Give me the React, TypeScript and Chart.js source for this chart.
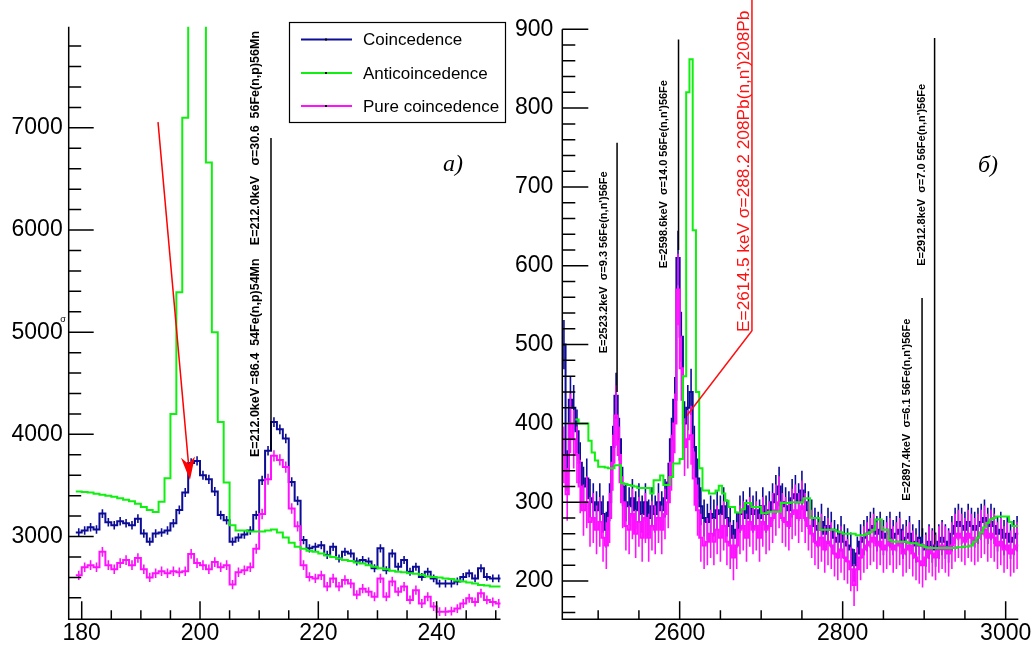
import React, { useEffect, useRef } from "react";
import { Chart, registerables } from "chart.js";
Chart.register(...registerables);

const FONT = "'Liberation Sans', Arimo, Arial, Helvetica, sans-serif";
const SERIF = "'Liberation Serif', 'DejaVu Serif', serif";

// ---------------- Left panel (a) : 1 keV bins, left edges from 179 ----------------
const leftBinStart = 179;
const leftBinWidth = 1;
const leftCoinc = [
  3040, 3060, 3090, 3070, 3225, 3140, 3110, 3150, 3130, 3110,
  3175, 3030, 2950, 3030, 3040, 3060, 3130, 3260, 3430, 3720,
  3740, 3600, 3560, 3440, 3210, 3160, 2950, 2990, 3020, 3060,
  3210, 3550, 3840, 4120, 4050, 3960, 3535, 3350, 2965, 2885,
  2900, 2915, 2820, 2900, 2785, 2850, 2835, 2755, 2770, 2755,
  2690, 2885, 2670, 2835, 2705, 2770, 2655, 2705, 2605, 2655,
  2590, 2540, 2540, 2540, 2560, 2605, 2640, 2590, 2690, 2605,
  2590, 2590,
];
const leftAnti = [
  3440, 3435, 3430, 3420, 3410, 3400, 3390, 3375, 3360, 3345,
  3320, 3290, 3260, 3240, 3340, 3570, 4200, 5390, 7100, 9500,
  11000, 9500, 6660, 5000, 4120, 3530, 3110, 3060, 3060, 3050,
  3050, 3050, 3060, 3070, 3040, 2990, 2940, 2900, 2880, 2860,
  2850, 2835, 2815, 2800, 2785, 2770, 2760, 2745, 2735, 2720,
  2705, 2690, 2680, 2665, 2655, 2650, 2640, 2635, 2625, 2610,
  2605, 2600, 2590, 2585, 2570, 2560, 2550, 2540, 2525, 2520,
  2510, 2510,
];
const leftPure = [
  2620, 2700, 2720, 2700, 2850, 2720, 2680, 2740, 2770, 2720,
  2790, 2680, 2600, 2640, 2660, 2640, 2660, 2650, 2660, 2830,
  2740, 2720, 2680, 2750, 2700, 2720, 2530, 2650, 2670, 2700,
  2880, 3220, 3560, 3790, 3750, 3680, 3275, 3100, 2720, 2605,
  2590, 2620, 2510, 2590, 2510, 2575, 2540, 2430, 2490, 2460,
  2410, 2590, 2410, 2560, 2460, 2510, 2380, 2475, 2345, 2410,
  2315, 2265, 2265, 2270, 2295, 2345, 2395, 2360, 2445, 2380,
  2360, 2345,
];
const leftXTicks = [180, 200, 220, 240];
const leftYTicks = [3000, 4000, 5000, 6000, 7000];

// ---------------- Right panel (б) : 4 keV bins, left edges from 2456 ----------------
const rightBinStart = 2456;
const rightBinWidth = 4;
const rightCoinc = [
  500, 340, 430, 420, 390, 350, 320, 330, 305, 300, 290, 300,
  285, 265, 300, 370, 435, 380, 320, 300,
  295, 305, 290, 300, 285, 300, 280, 295, 285, 300,
  290, 305, 325, 380, 430, 610, 510, 400, 420, 440,
  370, 330, 295, 280, 275, 285, 280, 290, 285, 295,
  280, 270, 255, 265, 285, 290, 280, 295, 285, 290,
  280, 295, 285, 290, 300, 310, 320, 300, 295, 290,
  305, 310, 300, 315, 300, 290, 280, 270, 265, 275,
  260, 270, 265, 255, 250, 260, 250, 245, 240, 220,
  235, 250, 255, 260, 265, 270, 260, 265, 255, 260,
  265, 255, 260, 265, 250, 255, 260, 250, 245, 255,
  245, 240, 250, 245, 240, 250, 255, 250, 245, 260,
  270, 275, 270, 265, 275, 270, 265, 270, 275, 280,
  270, 275, 270, 260, 265, 255, 260, 250, 255, 260,
];
const rightPure = [
  360, 310, 400, 380, 360, 320, 290, 300, 275, 280, 265, 275,
  255, 245, 280, 350, 410, 360, 300, 270,
  265, 285, 260, 275, 255, 280, 255, 270, 265, 280,
  265, 285, 300, 350, 400, 570, 470, 370, 380, 385,
  330, 290, 255, 245, 250, 260, 250, 265, 255, 270,
  250, 245, 230, 245, 265, 270, 255, 275, 265, 270,
  255, 275, 265, 270, 280, 290, 300, 280, 275, 270,
  285, 290, 280, 295, 280, 270, 260, 250, 245, 255,
  240, 250, 245, 235, 230, 240, 230, 225, 215, 195,
  215, 230, 240, 245, 250, 255, 245, 250, 240, 245,
  250, 240, 245, 250, 235, 240, 245, 235, 230, 225,
  220, 230, 240, 235, 230, 240, 245, 240, 235, 245,
  255, 260, 255, 250, 260, 255, 250, 255, 260, 265,
  255, 260, 255, 245, 250, 240, 245, 235, 240, 245,
];
const rightAnti = [
  null, null, null, null, 405, 400, 400, 400, 378, 363, 353, 345,
  345, 344, 343, 343, 347, 347, 324, 323,
  322, 321, 320, 318, 318, 318, 318, 311, 328, 328,
  334, 322, 322, 332, 349, 349, 355, 460, 820, 862,
  645, 440, 343, 315, 315, 311, 311, 315, 321, 311,
  302, 294, 294, 287, 287, 291, 299, 299, 294, 294,
  294, 286, 286, 288, 288, 288, 288, 299, 299, 299,
  300, 300, 300, 300, 305, 305, 280, 280, 280, 265,
  265, 265, 265, 265, 263, 262, 260, 260, 260, 260,
  258, 258, 258, 260, 262, 265, 278, 278, 265, 265,
  252, 250, 250, 250, 250, 250, 248, 248, 248, 246,
  245, 243, 242, 242, 242, 242, 242, 242, 242, 242,
  242, 243, 243, 244, 244, 245, 250, 255, 262, 268,
  274, 278, 280, 282, 282, 282, 282, 275, 270, 270,
];
const rightXTicks = [2600, 2800, 3000];
const rightYTicks = [200, 300, 400, 500, 600, 700, 800, 900];

const legendLabels = ["Coincedence", "Anticoincedence", "Pure coincedence"];

const BLUE = "#0c0c96";
const GREEN = "#10f010";
const PINK = "#ff10ff";

type Hist = {
  label: string; start: number; width: number; values: (number | null)[];
  color: string; errScale: number; order: number; lw: number;
};

const LEFT = {
  id: "L", left: 0, width: 515, height: 648,
  pad: { left: 0, right: 14.5, top: 26.7, bottom: 0 }, yAxisW: 68.7, xAxisH: 28.7,
  xMin: 177.8, xMax: 250.8, yMin: 2190, yMax: 7990,
  xTicks: leftXTicks, yTicks: leftYTicks, xMinor: 5, yMinor: 200,
  xMajorLen: 18, xMinorLen: 9, yMajorLen: 25, yMinorLen: 12.5, yPad: 6,
  hists: [
    { label: legendLabels[0], start: leftBinStart, width: leftBinWidth, values: leftCoinc, color: BLUE, errScale: 0.75, order: 2, lw: 2 },
    { label: legendLabels[1], start: leftBinStart, width: leftBinWidth, values: leftAnti, color: GREEN, errScale: 0, order: 0, lw: 2 },
    { label: legendLabels[2], start: leftBinStart, width: leftBinWidth, values: leftPure, color: PINK, errScale: 0.9, order: 1, lw: 2 },
  ] as Hist[],
  lines: [{ e: 212.0, from: 3840, to: 6900 }],
  texts: [
    { e: 212.0, dx: -15, y: 5852, text: "E=212.0keV   \u03c3=30.6  56Fe(n,p)56Mn", font: "bold 12.5px " + FONT, color: "#000" },
    { e: 212.0, dx: -15, y: 3778, text: "E=212.0keV =86.4  54Fe(n,p)54Mn", font: "bold 12.5px " + FONT, color: "#000" },
  ],
  arrow: { x1: 192.9, y1: 7056, x2: 198.3, y2: 3553 },
  poly: null as any,
  corner: { text: "a)", x: 443, y: 171 },
  legend: true,
};

const RIGHT = {
  id: "R", left: 510, width: 524, height: 648,
  pad: { left: 0, right: 15.7, top: 29.3, bottom: 0 }, yAxisW: 52.3, xAxisH: 28.7,
  xMin: 2456, xMax: 3015.5, yMin: 151.5, yMax: 900,
  xTicks: rightXTicks, yTicks: rightYTicks, xMinor: 50, yMinor: 20,
  xMajorLen: 18, xMinorLen: 9, yMajorLen: 26, yMinorLen: 13, yPad: 9,
  hists: [
    { label: legendLabels[0], start: rightBinStart, width: rightBinWidth, values: rightCoinc, color: BLUE, errScale: 1.4, order: 2, lw: 2 },
    { label: legendLabels[1], start: rightBinStart, width: rightBinWidth, values: rightAnti, color: GREEN, errScale: 0, order: 0, lw: 2 },
    { label: legendLabels[2], start: rightBinStart, width: rightBinWidth, values: rightPure, color: PINK, errScale: 1.9, order: 1, lw: 2 },
  ] as Hist[],
  lines: [
    { e: 2523.2, from: 440, to: 756 },
    { e: 2598.6, from: 620, to: 887 },
    { e: 2897.4, from: 256, to: 559 },
    { e: 2912.8, from: 246, to: 889 },
  ],
  texts: [
    { e: 2523.2, dx: -13, y: 489, text: "E=2523.2keV  \u03c3=9.3 56Fe(n,n')56Fe", font: "bold 11px " + FONT, color: "#000" },
    { e: 2598.6, dx: -15, y: 597, text: "E=2598.6keV  \u03c3=14.0 56Fe(n,n')56Fe", font: "bold 11px " + FONT, color: "#000" },
    { e: 2897.4, dx: -15, y: 302, text: "E=2897.4keV  \u03c3=6.1 56Fe(n,n')56Fe", font: "bold 11px " + FONT, color: "#000" },
    { e: 2912.8, dx: -13, y: 600, text: "E=2912.8keV  \u03c3=7.0 56Fe(n,n')56Fe", font: "bold 11px " + FONT, color: "#000" },
    { e: 2688.7, dx: -8, y: 516, text: "E=2614.5 keV \u03c3=288.2 208Pb(n,n')208Pb", font: "17.3px " + FONT, color: "#ff1010" },
  ],
  arrow: null as any,
  poly: { pts: [[2609, 410], [2688.7, 517.7], [2688.7, 940]], color: "#ff1010" },
  corner: { text: "\u0431)", x: 978, y: 172 },
  legend: false,
};

type PanelT = typeof LEFT;

function stepPoints(h: Hist) {
  const pts: { x: number; y: number | null }[] = [];
  h.values.forEach((v, i) => pts.push({ x: h.start + i * h.width, y: v }));
  pts.push({ x: h.start + h.values.length * h.width, y: h.values[h.values.length - 1] });
  return pts;
}

function vtext(ctx: CanvasRenderingContext2D, text: string, cx: number, by: number, font: string, color: string) {
  ctx.save();
  ctx.translate(cx, by);
  ctx.rotate(-Math.PI / 2);
  ctx.font = font;
  ctx.fillStyle = color;
  ctx.textAlign = "left";
  ctx.textBaseline = "middle";
  ctx.fillText(text, 0, 0);
  ctx.restore();
}

function makePlugin(p: PanelT) {
  return {
    id: "rootstyle" + p.id,
    afterDatasetDraw(chart: any, args: any) {
      const h = p.hists[args.index];
      if (!h || !h.errScale) return;
      const ctx = chart.ctx, ca = chart.chartArea, xs = chart.scales.x, ys = chart.scales.y;
      ctx.save();
      ctx.beginPath();
      ctx.rect(ca.left, ca.top, ca.right - ca.left, ca.bottom - ca.top);
      ctx.clip();
      ctx.strokeStyle = h.color;
      ctx.lineWidth = 1.6;
      ctx.beginPath();
      h.values.forEach((v, i) => {
        if (v == null) return;
        const e = h.errScale * Math.sqrt(v);
        const x = xs.getPixelForValue(h.start + (i + 0.5) * h.width);
        ctx.moveTo(x, ys.getPixelForValue(v - e));
        ctx.lineTo(x, ys.getPixelForValue(v + e));
      });
      ctx.stroke();
      ctx.restore();
    },
    afterDraw(chart: any) {
      const ctx = chart.ctx, ca = chart.chartArea, xs = chart.scales.x, ys = chart.scales.y;
      ctx.save();
      ctx.strokeStyle = "#000";
      ctx.lineWidth = 1.5;
      ctx.beginPath();
      ctx.moveTo(ca.left, ca.top);
      ctx.lineTo(ca.left, ca.bottom);
      ctx.lineTo(ca.right, ca.bottom);
      ctx.stroke();
      ctx.beginPath();
      for (let v = Math.ceil(p.yMin / p.yMinor) * p.yMinor; v <= p.yMax + 1e-6; v += p.yMinor) {
        const y = ys.getPixelForValue(v);
        if (y > ca.bottom - 2) continue;
        const len = p.yTicks.includes(v) ? p.yMajorLen : p.yMinorLen;
        ctx.moveTo(ca.left, y);
        ctx.lineTo(ca.left + len, y);
      }
      for (let v = Math.ceil(p.xMin / p.xMinor) * p.xMinor; v <= p.xMax; v += p.xMinor) {
        const x = xs.getPixelForValue(v);
        const len = p.xTicks.includes(v) ? p.xMajorLen : p.xMinorLen;
        ctx.moveTo(x, ca.bottom);
        ctx.lineTo(x, ca.bottom - len);
      }
      ctx.stroke();

      // vertical marker lines
      ctx.lineWidth = 1.5;
      ctx.beginPath();
      p.lines.forEach((l) => {
        const x = xs.getPixelForValue(l.e);
        ctx.moveTo(x, ys.getPixelForValue(l.from));
        ctx.lineTo(x, ys.getPixelForValue(l.to));
      });
      ctx.stroke();

      // rotated texts
      p.texts.forEach((t) => {
        vtext(ctx, t.text, xs.getPixelForValue(t.e) + t.dx, ys.getPixelForValue(t.y), t.font, t.color);
      });

      // red polyline
      if (p.poly) {
        ctx.strokeStyle = p.poly.color;
        ctx.lineWidth = 1.5;
        ctx.beginPath();
        p.poly.pts.forEach((pt: number[], i: number) => {
          const x = xs.getPixelForValue(pt[0]);
          const y = ys.getPixelForValue(pt[1]);
          if (i === 0) ctx.moveTo(x, y); else ctx.lineTo(x, y);
        });
        ctx.stroke();
      }

      // red arrow
      if (p.arrow) {
        const a = p.arrow;
        const x1 = xs.getPixelForValue(a.x1), y1 = ys.getPixelForValue(a.y1);
        const x2 = xs.getPixelForValue(a.x2), y2 = ys.getPixelForValue(a.y2);
        const ang = Math.atan2(y2 - y1, x2 - x1);
        const L = 23, W = 7;
        ctx.strokeStyle = "#ff0000";
        ctx.fillStyle = "#ff0000";
        ctx.lineWidth = 1.5;
        ctx.beginPath();
        ctx.moveTo(x1, y1);
        ctx.lineTo(x2 - Math.cos(ang) * (L - 6), y2 - Math.sin(ang) * (L - 6));
        ctx.stroke();
        const bx = x2 - Math.cos(ang) * L, by = y2 - Math.sin(ang) * L;
        const nx = -Math.sin(ang), ny = Math.cos(ang);
        const mx = x2 - Math.cos(ang) * (L - 7), my = y2 - Math.sin(ang) * (L - 7);
        ctx.beginPath();
        ctx.moveTo(x2, y2);
        ctx.lineTo(bx + nx * W, by + ny * W);
        ctx.lineTo(mx, my);
        ctx.lineTo(bx - nx * W, by - ny * W);
        ctx.closePath();
        ctx.fill();
      }

      // corner label
      ctx.fillStyle = "#000";
      ctx.font = "italic 24px " + SERIF;
      ctx.textAlign = "left";
      ctx.textBaseline = "alphabetic";
      ctx.fillText(p.corner.text, p.corner.x - p.left, p.corner.y);

      if (p.legend) {
        // y-axis title
        ctx.font = "9px " + FONT;
        ctx.textAlign = "center";
        ctx.textBaseline = "middle";
        ctx.fillText("\u03c3", 63, 320);
        // legend box
        ctx.strokeStyle = "#000";
        ctx.lineWidth = 1.2;
        ctx.strokeRect(289.5, 22.5, 216, 100);
        const ys2 = [39.5, 73, 106];
        p.hists.forEach((h, i) => {
          ctx.strokeStyle = h.color;
          ctx.lineWidth = 2;
          ctx.beginPath();
          ctx.moveTo(301, ys2[i]);
          ctx.lineTo(352, ys2[i]);
          ctx.stroke();
          ctx.fillStyle = "#000";
          ctx.fillRect(325, ys2[i] - 1, 2, 2);
          ctx.font = "17px " + FONT;
          ctx.textAlign = "left";
          ctx.textBaseline = "middle";
          ctx.fillText(h.label, 363, ys2[i] + 1);
        });
      }
      ctx.restore();
    },
  };
}

function makeConfig(p: PanelT): any {
  return {
    type: "line",
    data: {
      datasets: p.hists.map((h) => ({
        label: h.label,
        data: stepPoints(h),
        borderColor: h.color,
        backgroundColor: h.color,
        borderWidth: h.lw,
        stepped: "before",
        pointRadius: 0,
        fill: false,
        spanGaps: false,
        order: h.order,
      })),
    },
    options: {
      animation: false,
      responsive: false,
      maintainAspectRatio: false,
      events: [],
      layout: { padding: p.pad },
      plugins: { legend: { display: false }, tooltip: { enabled: false } },
      scales: {
        x: {
          type: "linear", min: p.xMin, max: p.xMax,
          grid: { display: false, drawTicks: false }, border: { display: false },
          afterBuildTicks: (s: any) => { s.ticks = p.xTicks.map((v) => ({ value: v })); },
          afterFit: (s: any) => { s.height = p.xAxisH; },
          ticks: { color: "#000", font: { family: FONT, size: 23 }, padding: 1, maxRotation: 0, autoSkip: false, callback: (v: any) => String(v) },
        },
        y: {
          type: "linear", min: p.yMin, max: p.yMax,
          grid: { display: false, drawTicks: false }, border: { display: false },
          afterBuildTicks: (s: any) => { s.ticks = p.yTicks.map((v) => ({ value: v })); },
          afterFit: (s: any) => { s.width = p.yAxisW; },
          ticks: { color: "#000", font: { family: FONT, size: 23 }, padding: p.yPad, autoSkip: false, callback: (v: any) => String(v) },
        },
      },
    },
    plugins: [makePlugin(p)],
  };
}

function PanelChart({ panel }: { panel: PanelT }) {
  const ref = useRef<HTMLCanvasElement | null>(null);
  useEffect(() => {
    if (!ref.current) return;
    const chart = new Chart(ref.current, makeConfig(panel));
    return () => chart.destroy();
  }, [panel]);
  return (
    <canvas
      ref={ref}
      width={panel.width}
      height={panel.height}
      style={{ position: "absolute", left: panel.left, top: 0, width: panel.width, height: panel.height }}
    />
  );
}

export default function App() {
  return (
    <div style={{ position: "fixed", left: 0, top: 0, width: 1034, height: 648, background: "#fff", overflow: "hidden" }}>
      <PanelChart panel={LEFT} />
      <PanelChart panel={RIGHT as any} />
    </div>
  );
}
